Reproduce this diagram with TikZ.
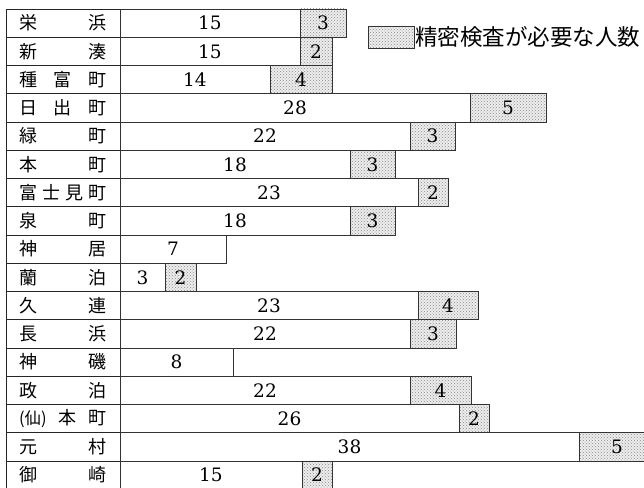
\documentclass[tikz,border=0pt]{standalone}
\usepackage{fontspec}
\newfontfamily\jp{Noto Sans CJK JP}
\newfontfamily\digits{DejaVu Serif}
\usetikzlibrary{patterns}

\tikzset{
  cell/.style={draw=black!85, line width=0.9pt, minimum width=114pt, minimum height=28.25pt,
    inner sep=0pt, font=\jp\fontsize{18}{18}\selectfont},
  wbar/.style={draw=black!80, line width=0.8pt, fill=white},
  sbar/.style={draw=black!80, line width=0.8pt, preaction={fill=black!7},
    pattern=crosshatch dots, pattern color=black!45},
  num/.style={font=\digits\fontsize{18.5}{18.5}\selectfont, inner sep=0pt}
}

\begin{document}
\begin{tikzpicture}[x=1pt, y=-1pt]
\useasboundingbox (0,0) rectangle (644,487);

\node[cell] (l1) at (63,23.12) {\makebox[88pt]{栄\hfill 浜}};
\draw[wbar] (120,9) rectangle (300,37.25) node[num, midway] (w1) {15};
\draw[sbar] (300,9) rectangle (346,37.25) node[num, midway] (s1) {3};

\node[cell] (l2) at (63,51.37) {\makebox[88pt]{新\hfill 湊}};
\draw[wbar] (120,37.25) rectangle (300,65.5) node[num, midway] (w2) {15};
\draw[sbar] (300,37.25) rectangle (332,65.5) node[num, midway] (s2) {2};

\node[cell] (l3) at (63,79.62) {\makebox[88pt]{種\hfill 富\hfill 町}};
\draw[wbar] (120,65.5) rectangle (270,93.75) node[num, midway] (w3) {14};
\draw[sbar] (270,65.5) rectangle (332,93.75) node[num, midway] (s3) {4};

\node[cell] (l4) at (63,107.87) {\makebox[88pt]{日\hfill 出\hfill 町}};
\draw[wbar] (120,93.75) rectangle (470,122) node[num, midway] (w4) {28};
\draw[sbar] (470,93.75) rectangle (546,122) node[num, midway] (s4) {5};

\node[cell] (l5) at (63,136.12) {\makebox[88pt]{緑\hfill 町}};
\draw[wbar] (120,122) rectangle (410,150.25) node[num, midway] (w5) {22};
\draw[sbar] (410,122) rectangle (455,150.25) node[num, midway] (s5) {3};

\node[cell] (l6) at (63,164.37) {\makebox[88pt]{本\hfill 町}};
\draw[wbar] (120,150.25) rectangle (350,178.5) node[num, midway] (w6) {18};
\draw[sbar] (350,150.25) rectangle (395,178.5) node[num, midway] (s6) {3};

\node[cell] (l7) at (63,192.62) {\makebox[88pt]{富\hfill 士\hfill 見\hfill 町}};
\draw[wbar] (120,178.5) rectangle (418,206.75) node[num, midway] (w7) {23};
\draw[sbar] (418,178.5) rectangle (448,206.75) node[num, midway] (s7) {2};

\node[cell] (l8) at (63,220.87) {\makebox[88pt]{泉\hfill 町}};
\draw[wbar] (120,206.75) rectangle (350,235) node[num, midway] (w8) {18};
\draw[sbar] (350,206.75) rectangle (395,235) node[num, midway] (s8) {3};

\node[cell] (l9) at (63,249.12) {\makebox[88pt]{神\hfill 居}};
\draw[wbar] (120,235) rectangle (226,263.25) node[num, midway] (w9) {7};

\node[cell] (l10) at (63,277.37) {\makebox[88pt]{蘭\hfill 泊}};
\draw[wbar] (120,263.25) rectangle (165,291.5) node[num, midway] (w10) {3};
\draw[sbar] (165,263.25) rectangle (196,291.5) node[num, midway] (s10) {2};

\node[cell] (l11) at (63,305.62) {\makebox[88pt]{久\hfill 連}};
\draw[wbar] (120,291.5) rectangle (418,319.75) node[num, midway] (w11) {23};
\draw[sbar] (418,291.5) rectangle (478,319.75) node[num, midway] (s11) {4};

\node[cell] (l12) at (63,333.87) {\makebox[88pt]{長\hfill 浜}};
\draw[wbar] (120,319.75) rectangle (410,348) node[num, midway] (w12) {22};
\draw[sbar] (410,319.75) rectangle (456,348) node[num, midway] (s12) {3};

\node[cell] (l13) at (63,362.12) {\makebox[88pt]{神\hfill 磯}};
\draw[wbar] (120,348) rectangle (233,376.25) node[num, midway] (w13) {8};

\node[cell] (l14) at (63,390.37) {\makebox[88pt]{政\hfill 泊}};
\draw[wbar] (120,376.25) rectangle (410,404.5) node[num, midway] (w14) {22};
\draw[sbar] (410,376.25) rectangle (471,404.5) node[num, midway] (s14) {4};

\node[cell] (l15) at (63,418.62) {\makebox[88pt]{{\fontsize{16.5}{16.5}\selectfont(仙)}\hfill 本\hfill 町}};
\draw[wbar] (120,404.5) rectangle (459,432.75) node[num, midway] (w15) {26};
\draw[sbar] (459,404.5) rectangle (489,432.75) node[num, midway] (s15) {2};

\node[cell] (l16) at (63,446.87) {\makebox[88pt]{元\hfill 村}};
\draw[wbar] (120,432.75) rectangle (579,461) node[num, midway] (w16) {38};
\draw[sbar] (579,432.75) rectangle (655,461) node[num, midway] (s16) {5};

\node[cell] (l17) at (63,475.12) {\makebox[88pt]{御\hfill 崎}};
\draw[wbar] (120,461) rectangle (302,489.25) node[num, midway] (w17) {15};
\draw[sbar] (302,461) rectangle (332,489.25) node[num, midway] (s17) {2};

\draw[sbar] (368,26) rectangle (414,48) node[midway] (key) {};
\node[anchor=west, inner sep=1pt, font=\jp\fontsize{22.5}{22.5}\selectfont] (keytext) at (414,37) {精密検査が必要な人数};
\end{tikzpicture}
\end{document}
